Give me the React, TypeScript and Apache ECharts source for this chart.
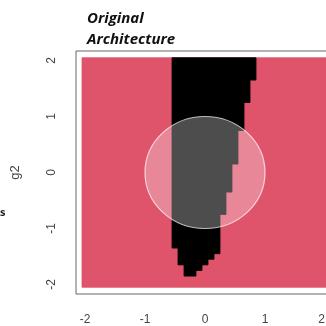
import React, { useEffect, useRef } from "react";
import * as echarts from "echarts";

// Axis ticks
const xTicks = [-2, -1, 0, 1, 2];
const yTicks = [-2, -1, 0, 1, 2];

// Evaluated grid extent (background class region)
const gridLow = -2.05;
const gridHigh = 2.05;

// Black class region, as horizontal bands (y from..to, x from..to)
const bandYLow = [1.65, 1.25, 0.75, 0.15, -0.35, -0.75, -1.35, -1.45, -1.55, -1.65, -1.75, -1.85];
const bandYHigh = [2.05, 1.65, 1.25, 0.75, 0.15, -0.35, -0.75, -1.35, -1.45, -1.55, -1.65, -1.75];
const bandXLow = [-0.55, -0.55, -0.55, -0.55, -0.55, -0.55, -0.55, -0.45, -0.45, -0.45, -0.35, -0.35];
const bandXHigh = [0.85, 0.75, 0.65, 0.55, 0.45, 0.35, 0.25, 0.25, 0.15, 0.05, -0.05, -0.15];

// Circle overlay
const circleCenter = [0, 0];
const circleRadius = 1;

export default function App() {
  const ref = useRef<HTMLDivElement>(null);
  useEffect(() => {
    if (!ref.current) return;
    const chart = echarts.init(ref.current, undefined, { renderer: "svg" });
    const bands = bandYLow.map((yl, i) => [bandXLow[i], yl, bandXHigh[i], bandYHigh[i]]);
    const rectItem = (params: any, api: any) => {
      const p1 = api.coord([api.value(0), api.value(3)]);
      const p2 = api.coord([api.value(2), api.value(1)]);
      const color = api.visual("color");
      return {
        type: "rect",
        shape: { x: p1[0], y: p1[1], width: p2[0] - p1[0], height: p2[1] - p1[1] },
        style: { fill: color, stroke: color, lineWidth: 0.8 },
      };
    };
    chart.setOption({
      animation: false,
      title: {
        text: "Original\nArchitecture",
        left: 82,
        top: 1,
        textStyle: {
          fontFamily: "Open Sans",
          fontStyle: "italic",
          fontWeight: "bold",
          fontSize: 15,
          lineHeight: 21,
          color: "#111",
        },
      },
      graphic: [
        {
          type: "text",
          x: 0,
          y: 206,
          style: { text: "s", font: "bold 11px 'Open Sans'", fill: "#222" },
        },
      ],
      grid: {
        left: 76,
        top: 51,
        width: 258,
        height: 243,
        outerBoundsMode: "none",
        containLabel: false,
        show: true,
        borderColor: "#666",
        borderWidth: 1,
        backgroundColor: "transparent",
      },
      xAxis: {
        type: "value",
        min: -2.15,
        max: 2.15,
        splitLine: { show: false },
        axisLine: { show: false },
        axisTick: { show: true, inside: false, length: 7, customValues: xTicks, lineStyle: { color: "#555" } },
        axisLabel: {
          customValues: xTicks,
          margin: 19,
          alignMaxLabel: "right",
          fontFamily: "Liberation Sans",
          fontSize: 12,
          color: "#444",
        },
      },
      yAxis: {
        type: "value",
        min: -2.17,
        max: 2.17,
        name: "g2",
        nameLocation: "middle",
        nameRotate: 90,
        nameGap: 55,
        nameTextStyle: { fontFamily: "Liberation Sans", fontSize: 13, color: "#444" },
        splitLine: { show: false },
        axisLine: { show: false },
        axisTick: { show: true, inside: false, length: 8, customValues: yTicks, lineStyle: { color: "#555" } },
        axisLabel: {
          customValues: yTicks,
          rotate: 90,
          margin: 19,
          fontFamily: "Liberation Sans",
          fontSize: 12,
          color: "#444",
        },
      },
      series: [
        {
          type: "custom",
          renderItem: rectItem,
          itemStyle: { color: "#DF536B" },
          data: [[gridLow, gridLow, gridHigh, gridHigh]],
          clip: true,
          z: 1,
        },
        {
          type: "custom",
          renderItem: rectItem,
          itemStyle: { color: "#000000" },
          data: bands,
          clip: true,
          z: 2,
        },
        {
          type: "custom",
          renderItem: (params: any, api: any) => {
            const c = api.coord([api.value(0), api.value(1)]);
            const s = api.size([api.value(2), api.value(2)]);
            return {
              type: "ellipse",
              shape: { cx: c[0], cy: c[1], rx: s[0], ry: s[1] },
              style: {
                fill: "rgba(255,255,255,0.3)",
                stroke: "rgba(255,255,255,0.7)",
                lineWidth: 1.2,
              },
            };
          },
          data: [[circleCenter[0], circleCenter[1], circleRadius]],
          clip: true,
          z: 3,
        },
      ],
    });
    return () => chart.dispose();
  }, []);
  return (
    <div
      ref={ref}
      style={{ position: "fixed", left: 0, top: 0, width: 326, height: 326 }}
    />
  );
}
